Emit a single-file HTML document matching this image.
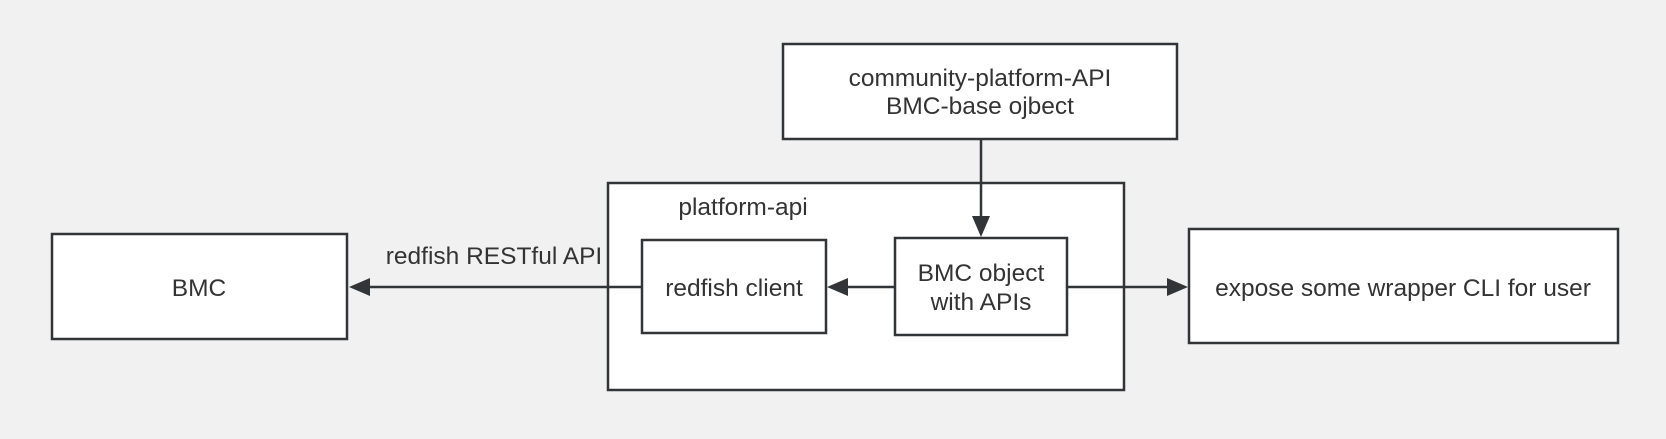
<!DOCTYPE html>
<html><head><meta charset="utf-8"><style>
html,body{margin:0;padding:0;background:#f1f1f1;}
svg{display:block;}
text{font-family:"Liberation Sans","DejaVu Sans",sans-serif;font-size:24.5px;fill:#333;}
</style></head><body>
<svg width="1666" height="439" viewBox="0 0 1666 439" xmlns="http://www.w3.org/2000/svg">
<rect x="0" y="0" width="1666" height="439" fill="#f1f1f1"/>
<g fill="#fff" stroke="#323537" stroke-width="2.5">
<rect x="783" y="44" width="394" height="95"/>
<rect x="608" y="183" width="516" height="207"/>
<rect x="52" y="234" width="295" height="105"/>
<rect x="642" y="240" width="184" height="93"/>
<rect x="895" y="238" width="172" height="97"/>
<rect x="1189" y="229" width="429" height="114"/>
</g>
<g stroke="#323537" stroke-width="2.5" fill="#323537">
<line x1="981" y1="139" x2="981" y2="218"/>
<path d="M972,216 L990,216 L981,237 z" stroke="none"/>
<line x1="895" y1="287" x2="848" y2="287"/>
<path d="M848,278 L848,296 L827,287 z" stroke="none"/>
<line x1="642" y1="287" x2="370" y2="287"/>
<path d="M370,278 L370,296 L349,287 z" stroke="none"/>
<line x1="1067" y1="287" x2="1167" y2="287"/>
<path d="M1167,278 L1167,296 L1188,287 z" stroke="none"/>
</g>
<g text-anchor="middle">
<text x="980" y="86">community-platform-API</text>
<text x="980" y="114">BMC-base ojbect</text>
<text x="743" y="215">platform-api</text>
<text x="494" y="264">redfish RESTful API</text>
<text x="199" y="296">BMC</text>
<text x="734" y="296">redfish client</text>
<text x="981" y="281">BMC object</text>
<text x="981" y="310">with APIs</text>
<text x="1403" y="296">expose some wrapper CLI for user</text>
</g>
</svg>
</body></html>
